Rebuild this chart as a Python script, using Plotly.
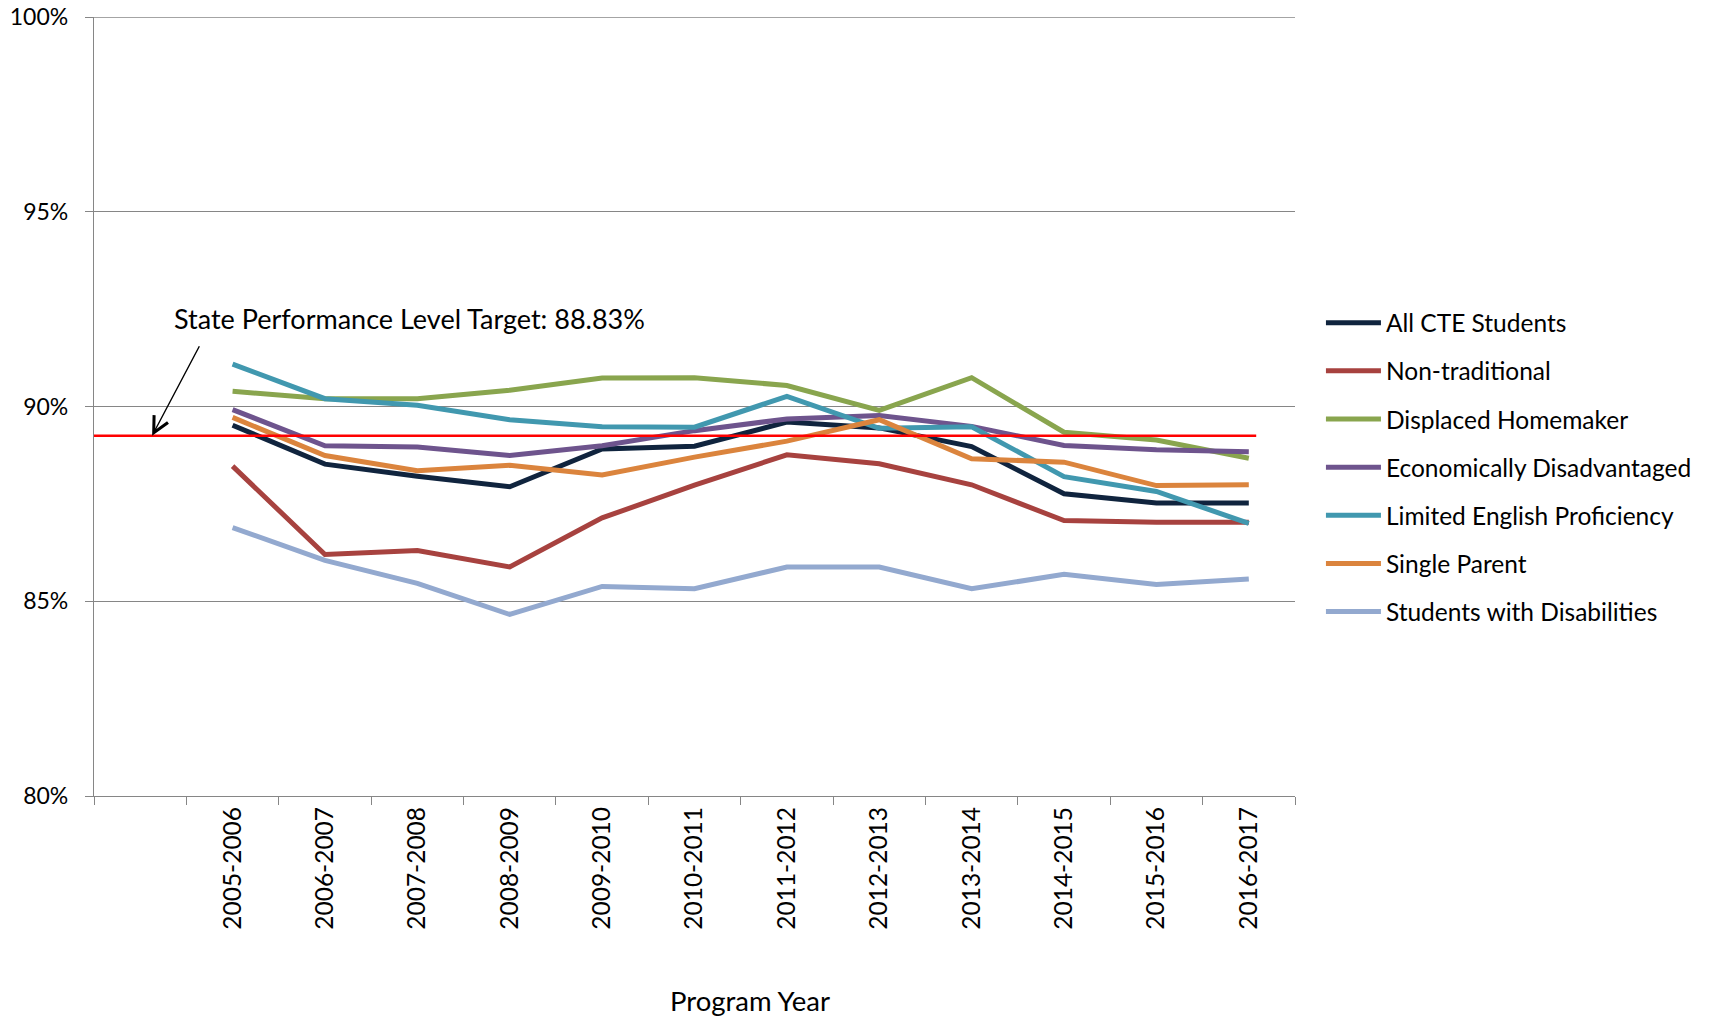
import plotly.graph_objects as go

years = ["2005-2006", "2006-2007", "2007-2008", "2008-2009", "2009-2010", "2010-2011",
         "2011-2012", "2012-2013", "2013-2014", "2014-2015", "2015-2016", "2016-2017"]
all_categories = [" "] + years  # Excel leaves an empty first slot

all_cte = [89.52, 88.52, 88.21, 87.94, 88.91, 88.98, 89.60, 89.45, 88.97, 87.76, 87.52, 87.52]
non_traditional = [88.47, 86.20, 86.30, 85.88, 87.14, 87.98, 88.76, 88.53, 87.99, 87.07, 87.03, 87.03]
displaced_homemaker = [90.39, 90.20, 90.20, 90.42, 90.73, 90.74, 90.54, 89.90, 90.74, 89.34, 89.14, 88.67]
econ_disadvantaged = [89.92, 88.99, 88.96, 88.74, 88.99, 89.38, 89.68, 89.77, 89.49, 89.00, 88.89, 88.84]
limited_english = [91.09, 90.20, 90.03, 89.66, 89.48, 89.47, 90.26, 89.44, 89.48, 88.20, 87.82, 87.00]
single_parent = [89.72, 88.74, 88.35, 88.49, 88.24, 88.70, 89.11, 89.66, 88.66, 88.57, 87.97, 87.99]
disabilities = [86.89, 86.05, 85.46, 84.66, 85.38, 85.32, 85.88, 85.88, 85.32, 85.69, 85.43, 85.57]

series_names = ["All CTE Students", "Non-traditional", "Displaced Homemaker",
                "Economically Disadvantaged", "Limited English Proficiency",
                "Single Parent", "Students with Disabilities"]
series_values = [all_cte, non_traditional, displaced_homemaker, econ_disadvantaged,
                 limited_english, single_parent, disabilities]
series_colors = ["#10243E", "#A7423F", "#89A54E", "#6E548D", "#4198AF", "#DB843D", "#93A9CF"]

target_line_value = 89.25
target_label = "State Performance Level Target: 88.83%"
y_ticks = [80, 85, 90, 95, 100]
y_tick_text = [f"{v}%" for v in y_ticks]

FONT = "Lato"
GRID = "#868686"

fig = go.Figure()
for name, vals, col in zip(series_names, series_values, series_colors):
    fig.add_trace(go.Scatter(
        x=years, y=vals, name=name, mode="lines", legendgroup=name,
        line=dict(color=col, width=5),
    ))

# top gridline (plotly skips the gridline on the range edge)
fig.add_shape(type="line", xref="paper", yref="y", x0=0, x1=1, y0=y_ticks[-1], y1=y_ticks[-1],
              line=dict(color=GRID, width=1.3), layer="below")

# red target line
fig.add_shape(type="line", xref="x", yref="y",
              x0=-0.5, x1=12.08, y0=target_line_value, y1=target_line_value,
              line=dict(color="#FF0000", width=2.6), layer="above")

# label text
fig.add_annotation(xref="paper", yref="paper", x=0.065, y=0.6126,
                   xanchor="left", yanchor="middle", showarrow=False,
                   text=target_label, font=dict(family=FONT, size=27, color="#000000"))
# arrow
fig.add_annotation(xref="paper", yref="y", x=0.0484, y=target_line_value,
                   text="", showarrow=True, ax=48, ay=-91,
                   arrowhead=5, arrowsize=2.2, arrowwidth=1.4, arrowcolor="#000000",
                   standoff=0)
# axis title
fig.add_annotation(xref="paper", yref="paper", x=0.546, y=-0.262,
                   xanchor="center", yanchor="middle", showarrow=False,
                   text="Program Year", font=dict(family=FONT, size=27.5, color="#000000"))

fig.update_layout(
    width=1705, height=1009,
    margin=dict(l=86, r=418, t=9, b=221, autoexpand=False),
    paper_bgcolor="white", plot_bgcolor="white",
    font=dict(family=FONT, size=23, color="#000000"),
    showlegend=True,
    legend=dict(x=1.0216, xanchor="left", y=0.422, yanchor="middle",
                font=dict(family=FONT, size=24.5, color="#000000"),
                tracegroupgap=13.3, traceorder="grouped", itemwidth=55,
                bgcolor="rgba(0,0,0,0)"),
    xaxis=dict(type="category", categoryorder="array", categoryarray=all_categories,
               range=[-0.5, 12.5], tickson="boundaries", ticks="outside", ticklen=8,
               tickcolor=GRID, tickwidth=1.3, showline=True, linecolor=GRID, linewidth=1.3,
               showgrid=False, tickangle=-90, tickfont=dict(family=FONT, size=24.5),
               zeroline=False, automargin=False, ticklabelstandoff=0),
    yaxis=dict(range=[80, 100], tickmode="array", tickvals=y_ticks, ticktext=y_tick_text,
               ticks="outside", ticklen=8, tickcolor=GRID, tickwidth=1.3, showline=True,
               linecolor=GRID, linewidth=1.3, showgrid=True, gridcolor=GRID, gridwidth=1.3,
               zeroline=False, tickfont=dict(family=FONT, size=23), automargin=False,
               ticklabelstandoff=12, ticklabeloverflow="allow"),
)

fig.write_html("out.html")
